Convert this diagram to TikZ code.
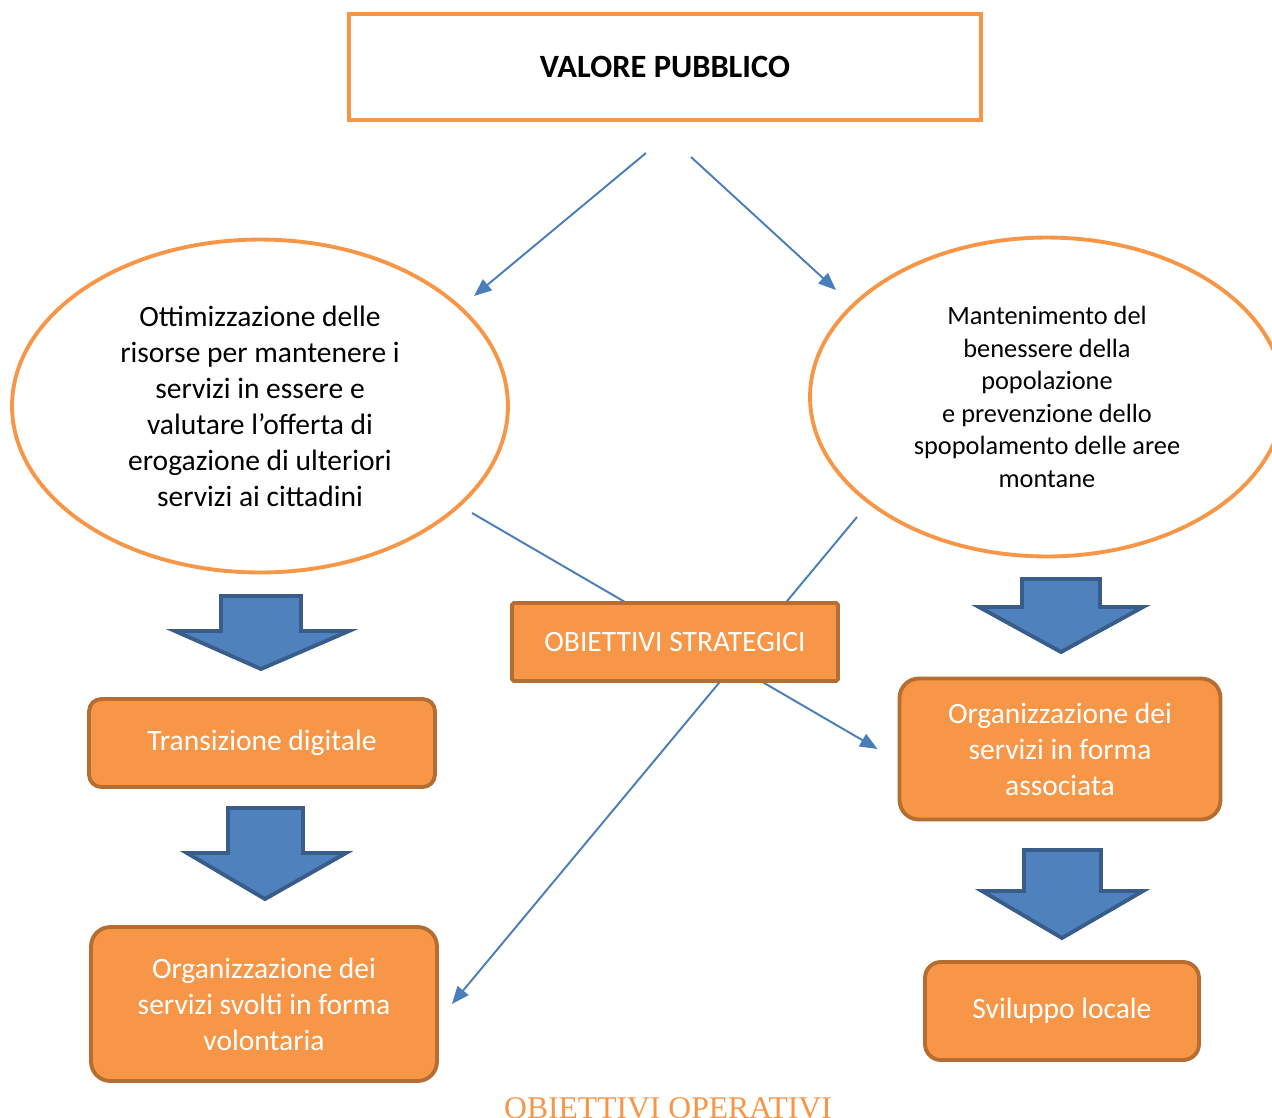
\documentclass[tikz,border=0pt]{standalone}
\usepackage{fontspec}
\setmainfont{Carlito}
\newfontfamily\serifcaption{Liberation Serif}
\usetikzlibrary{shapes.geometric, arrows.meta, positioning, calc}
\definecolor{boxorange}{HTML}{F79646}
\definecolor{boxedge}{HTML}{B66D31}
\definecolor{lineblue}{HTML}{4A7EBB}
\definecolor{arrowblue}{HTML}{4F81BD}
\definecolor{arrowedge}{HTML}{385D8A}
\tikzstyle{goal} = [ellipse, draw=boxorange, line width=2.2pt, fill=white, inner sep=0pt, align=center]
\tikzstyle{action} = [rectangle, rounded corners=7pt, draw=boxedge, fill=boxorange, line width=2.2pt, text=white, align=center, font=\fontsize{16.8}{20.5}\selectfont]
\tikzstyle{link} = [draw=lineblue, line width=1.1pt, -{Triangle[length=10pt,width=8pt]}]
\tikzstyle{bigarrow} = [fill=arrowblue, draw=arrowedge, line width=2.2pt, line join=miter]

\begin{document}
\begin{tikzpicture}[x=0.02cm, y=-0.02cm]
    \clip (0,0) rectangle (1272,1117);

    % Top box
    \node (valore) [rectangle, draw=boxorange, line width=2.2pt, minimum width=12.64cm, minimum height=2.12cm, font=\bfseries\fontsize{18.5}{22}\selectfont] at (665,67) {VALORE PUBBLICO};

    % Ellipses
    \node (ottim) [goal, minimum width=9.92cm, minimum height=6.66cm, font=\fontsize{16.8}{20.5}\selectfont] at (260,406)
        {Ottimizzazione delle\\ risorse per mantenere i\\ servizi in essere e\\ valutare l’offerta di\\ erogazione di ulteriori\\ servizi ai cittadini};
    \node (mant) [goal, minimum width=9.48cm, minimum height=6.38cm, font=\fontsize{15}{18.5}\selectfont] at (1047,397)
        {Mantenimento del\\ benessere della\\ popolazione\\ e prevenzione dello\\ spopolamento delle aree\\ montane};

    % Arrows from the top box
    \coordinate (a1) at (646,153);
    \coordinate (a2) at (691,157);
    \coordinate (b1) at (474,296);
    \coordinate (b2) at (836,290);
    \draw[link] (a1) -- (b1);
    \draw[link] (a2) -- (b2);

    % Operative boxes
    \node (digit) [action, minimum width=6.92cm, minimum height=1.76cm] at (262,743) {Transizione digitale};
    \node (volont) [action, rounded corners=11pt, minimum width=6.92cm, minimum height=3.08cm] at (264,1004) {Organizzazione dei\\ servizi svolti in forma\\ volontaria};
    \node (assoc) [action, rounded corners=11pt, minimum width=6.42cm, minimum height=2.82cm] at (1060,749) {Organizzazione dei\\ servizi in forma\\ associata};
    \node (svil) [action, rounded corners=9pt, minimum width=5.48cm, minimum height=1.96cm] at (1062,1011) {Sviluppo locale};

    % Crossing lines
    \coordinate (c1) at (472,513);
    \coordinate (c2) at (857,517);
    \draw[link] (c1) -- ($(assoc.west)+(-20,0)$);
    \draw[link] (c2) -- ($(volont.east)+(13,0)$);

    % Middle box
    \node (strat) [action, rounded corners=1pt, minimum width=6.52cm, minimum height=1.56cm] at (675,642) {OBIETTIVI STRATEGICI};

    % Block arrows
    \draw[bigarrow] (221,596) -- (301,596) -- (301,631) -- (349,631) -- (261,669) -- (175,631) -- (221,631) -- cycle;
    \draw[bigarrow] (228,808) -- (303,808) -- (303,853) -- (346,853) -- (265,899) -- (187,853) -- (228,853) -- cycle;
    \draw[bigarrow] (1022,579) -- (1100,579) -- (1100,607) -- (1143,607) -- (1061,652) -- (979,607) -- (1022,607) -- cycle;
    \draw[bigarrow] (1024,850) -- (1101,850) -- (1101,891) -- (1143,891) -- (1062,938) -- (982,891) -- (1024,891) -- cycle;

    % Caption
    \node (operat) [anchor=base, text=boxorange, font=\serifcaption\fontsize{18}{21}\selectfont, inner sep=0pt] at (668,1118) {OBIETTIVI OPERATIVI};
\end{tikzpicture}
\end{document}
